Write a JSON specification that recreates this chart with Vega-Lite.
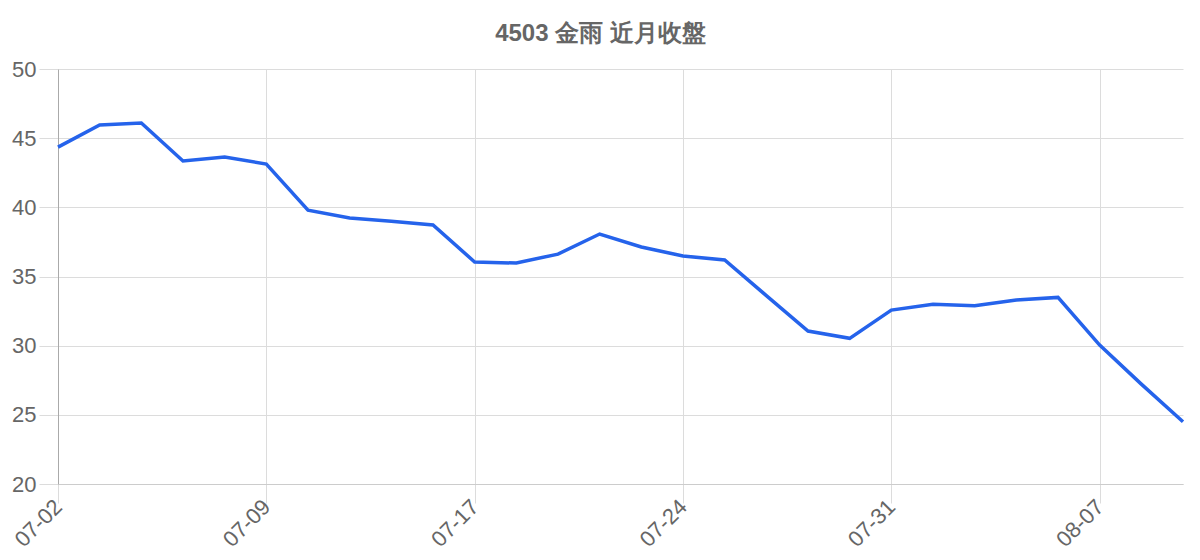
{
  "$schema": "https://vega.github.io/schema/vega-lite/v6.json",
  "autosize": "none",
  "padding": {"left": 58, "top": 69, "right": 17, "bottom": 76},
  "width": 1125,
  "height": 415,
  "background": "white",
  "title": {
    "text": "4503 金雨 近月收盤",
    "font": "Liberation Sans",
    "fontSize": 24,
    "fontWeight": "bold",
    "color": "#666666",
    "anchor": "middle",
    "dx": -20,
    "offset": 12
  },
  "config": {
    "view": {"stroke": null},
    "axis": {
      "labelFont": "Liberation Sans",
      "labelFontSize": 22,
      "labelColor": "#666666",
      "gridColor": "#dcdcdc",
      "tickColor": "#dcdcdc",
      "tickSize": 19,
      "labelPadding": 3
    }
  },
  "data": {
    "values": [
      {"date": "07-02", "close": 44.35},
      {"date": "07-03", "close": 45.95},
      {"date": "07-04", "close": 46.1},
      {"date": "07-07", "close": 43.35},
      {"date": "07-08", "close": 43.64},
      {"date": "07-09", "close": 43.13},
      {"date": "07-10", "close": 39.8},
      {"date": "07-11", "close": 39.23},
      {"date": "07-14", "close": 39.0},
      {"date": "07-15", "close": 38.72},
      {"date": "07-17", "close": 36.05},
      {"date": "07-18", "close": 35.97},
      {"date": "07-21", "close": 36.62},
      {"date": "07-22", "close": 38.07},
      {"date": "07-23", "close": 37.13},
      {"date": "07-24", "close": 36.48},
      {"date": "07-25", "close": 36.19},
      {"date": "07-28", "close": 33.62},
      {"date": "07-29", "close": 31.06},
      {"date": "07-30", "close": 30.53},
      {"date": "07-31", "close": 32.57},
      {"date": "08-01", "close": 32.99},
      {"date": "08-04", "close": 32.89},
      {"date": "08-05", "close": 33.3},
      {"date": "08-06", "close": 33.49},
      {"date": "08-07", "close": 30.04},
      {"date": "08-08", "close": 27.22},
      {"date": "08-11", "close": 24.5}
    ]
  },
  "mark": {"type": "line", "color": "#2563eb", "strokeWidth": 3.5},
  "encoding": {
    "x": {
      "field": "date",
      "type": "ordinal",
      "sort": null,
      "scale": {"type": "point", "padding": 0},
      "axis": {
        "title": null,
        "values": ["07-02", "07-09", "07-17", "07-24", "07-31", "08-07"],
        "labelAngle": -45,
        "labelAlign": "right",
        "labelBaseline": "middle",
        "labelPadding": 0,
        "domainColor": "#cccccc",
        "grid": true
      }
    },
    "y": {
      "field": "close",
      "type": "quantitative",
      "scale": {"domain": [20, 50], "nice": false, "zero": false},
      "axis": {
        "title": null,
        "values": [20, 25, 30, 35, 40, 45, 50],
        "domainColor": "#aaaaaa"
      }
    }
  }
}
